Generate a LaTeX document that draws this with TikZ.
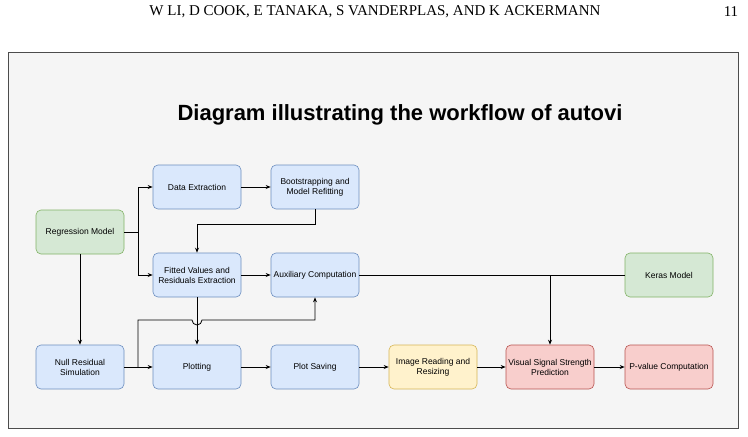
\documentclass[tikz,border=0pt]{standalone}
\usepackage{fontspec}
\setmainfont{Liberation Serif}
\newfontfamily\sansf{Liberation Sans}
\usetikzlibrary{arrows.meta}
\definecolor{bfill}{HTML}{DAE8FC}\definecolor{bdraw}{HTML}{6C8EBF}
\definecolor{gfill}{HTML}{D5E8D4}\definecolor{gdraw}{HTML}{82B366}
\definecolor{yfill}{HTML}{FFF2CC}\definecolor{ydraw}{HTML}{D6B656}
\definecolor{rfill}{HTML}{F8CECC}\definecolor{rdraw}{HTML}{B85450}
\begin{document}
\begin{tikzpicture}[x=1pt,y=-1pt,
 box/.style={rounded corners=5pt,minimum width=88pt,minimum height=44pt,align=center,font=\sansf\fontsize{8.5}{10}\selectfont,inner sep=1pt,line width=0.6pt},
 blue/.style={box,fill=bfill,draw=bdraw},
 green/.style={box,fill=gfill,draw=gdraw},
 yel/.style={box,fill=yfill,draw=ydraw},
 red/.style={box,fill=rfill,draw=rdraw},
 conn/.style={line width=0.8pt,-{Stealth[length=5pt,width=4pt]}},
 plain/.style={line width=0.8pt}]
\useasboundingbox (0,0) rectangle (748,437);
\node[font=\fontsize{15}{17}\selectfont] (hdr) at (375,12) {W LI, D COOK, E TANAKA, S VANDERPLAS, AND K ACKERMANN};
\node[font=\fontsize{15}{17}\selectfont] (pg) at (731,12) {11};
\draw[fill=black!4,draw=black!70,line width=0.6pt] (8,52) rectangle (738,428);
\node[font=\sansf\bfseries\fontsize{22}{26}\selectfont] (title) at (400,115) {Diagram illustrating the workflow of autovi};
\node[green] (reg) at (80,232) {Regression Model};
\node[blue] (de) at (197,187) {Data Extraction};
\node[blue] (bs) at (315,187) {Bootstrapping and\\Model Refitting};
\node[blue] (fv) at (197,275) {Fitted Values and\\Residuals Extraction};
\node[blue] (aux) at (315,275) {Auxiliary Computation};
\node[green] (ker) at (669,275) {Keras Model};
\node[blue] (nul) at (80,367) {Null Residual\\Simulation};
\node[blue] (plt) at (197,367) {Plotting};
\node[blue] (ps) at (315,367) {Plot Saving};
\node[yel] (img) at (433,367) {Image Reading and\\Resizing};
\node[red] (vss) at (550,367) {Visual Signal Strength\\Prediction};
\node[red] (pv) at (669,367) {P-value Computation};
\coordinate (s1) at (138,232);
\coordinate (s2) at (138,367);
\draw[plain] (reg) -- (s1);
\draw[conn] (s1) |- (de);
\draw[conn] (s1) |- (fv);
\draw[conn] (de) -- (bs);
\draw[conn] (bs.south) -- (315,224) -- (197,224) -- (fv.north);
\draw[conn] (fv) -- (aux);
\draw[conn] (reg) -- (nul);
\draw[conn] (nul) -- (plt);
\draw[conn] (fv) -- (plt);
\draw[conn] (s2) -- (138,320) -- (192,320) arc[start angle=180,end angle=0,radius=5] -- (315,320) -- (aux.south);
\draw[plain] (aux) -- (ker);
\draw[conn] (550,275) -- (vss.north);
\draw[conn] (plt) -- (ps);
\draw[conn] (ps) -- (img);
\draw[conn] (img) -- (vss);
\draw[conn] (vss) -- (pv);
\end{tikzpicture}
\end{document}
